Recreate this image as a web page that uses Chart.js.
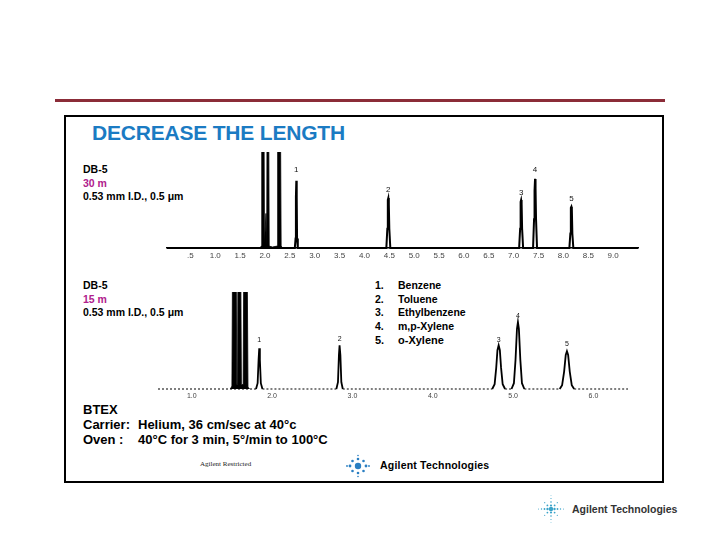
<!DOCTYPE html>
<html>
<head>
<meta charset="utf-8">
<script src="https://cdn.jsdelivr.net/npm/chart.js@4"></script>
<style>
  html, body { margin: 0; padding: 0; background: #fff; }
  #slide { position: relative; width: 720px; height: 540px; overflow: hidden; font-family: "Liberation Sans", Arial, sans-serif; }
  .abs { position: absolute; white-space: nowrap; }
  #redline { left: 55px; top: 99px; width: 610px; height: 3px; background: #8b2c38; }
  #box { left: 64px; top: 115px; width: 596px; height: 364px; border: 2px solid #000; }
  #title { left: 92px; top: 121px; font-size: 21px; font-weight: bold; color: #1b7bc3; letter-spacing: -0.2px; }
  .col { font-size: 10.5px; font-weight: bold; line-height: 13.5px; color: #000; }
  .col .len { color: #b0208c; }
  .legend { left: 375px; font-size: 10.5px; font-weight: bold; line-height: 13.5px; }
  .legend span { display: inline-block; width: 23px; }
  .cond { font-size: 13px; font-weight: bold; line-height: 15px; }
  .cond span { display: inline-block; width: 55px; }
  #restricted { left: 200px; top: 460px; font-family: "Liberation Serif", serif; font-size: 7px; color: #222; }
  #logo1 { left: 380px; top: 459px; font-size: 10.5px; font-weight: bold; color: #000; letter-spacing: 0.2px; }
  #logo2 { left: 572px; top: 503px; font-size: 10.5px; font-weight: bold; color: #333; }
  canvas { position: absolute; }
</style>
</head>
<body>
<div id="slide">
  <div class="abs" id="redline"></div>
  <div class="abs" id="box"></div>
  <div class="abs" id="title">DECREASE THE LENGTH</div>

  <div class="abs col" style="left:83px; top:163px;">DB-5<br><span class="len">30 m</span><br>0.53 mm I.D., 0.5 μm</div>
  <div class="abs col" style="left:83px; top:279px;">DB-5<br><span class="len">15 m</span><br>0.53 mm I.D., 0.5 μm</div>

  <div class="abs legend" style="top:279px;"><span>1.</span>Benzene<br><span>2.</span>Toluene<br><span>3.</span>Ethylbenzene<br><span>4.</span>m,p-Xylene</div>
  <div class="abs legend" style="top:334px; font-size:11px;"><span>5.</span>o-Xylene</div>

  <div class="abs cond" style="left:83px; top:402px;">BTEX<br><span>Carrier:</span>Helium, 36 cm/sec at 40°c<br><span>Oven :</span>40°C for 3 min, 5°/min to 100°C</div>

  <div class="abs" id="restricted">Agilent Restricted</div>

  <svg class="abs" style="left:346px; top:454px;" width="24" height="24" viewBox="-12 -12 24 24">
    <g fill="#2a7fc2">
      <circle r="3.2"/>
      <circle cx="0" cy="-7" r="1.3"/><circle cx="0" cy="7" r="1.3"/>
      <circle cx="-8" cy="0" r="1.4"/><circle cx="8" cy="0" r="1.4"/>
      <circle cx="-5.5" cy="-5" r="1.3"/><circle cx="5.5" cy="-5" r="1.3"/>
      <circle cx="-5.5" cy="5" r="1.3"/><circle cx="5.5" cy="5" r="1.3"/>
      <circle cx="-11" cy="0" r="0.9"/><circle cx="11" cy="0" r="0.9"/>
      <circle cx="0" cy="-10.5" r="0.8"/><circle cx="0" cy="10.5" r="0.8"/>
    </g>
  </svg>
  <div class="abs" id="logo1">Agilent Technologies</div>

  <svg class="abs" style="left:536px; top:494px;" width="30" height="30" viewBox="-15 -15 30 30">
    <g fill="#3aa3c9">
      <circle r="2.2"/>
      <circle cx="-3.5" cy="0" r="1.2"/><circle cx="3.5" cy="0" r="1.2"/>
      <circle cx="0" cy="-3.5" r="1.1"/><circle cx="0" cy="3.5" r="1.1"/>
      <circle cx="-6.5" cy="0" r="0.9"/><circle cx="6.5" cy="0" r="0.9"/>
      <circle cx="-9.5" cy="0" r="0.7"/><circle cx="9.5" cy="0" r="0.7"/>
      <circle cx="-12.5" cy="0" r="0.5"/><circle cx="12.5" cy="0" r="0.5"/>
      <circle cx="0" cy="-7" r="0.8"/><circle cx="0" cy="7" r="0.8"/>
      <circle cx="0" cy="-10.5" r="0.6"/><circle cx="0" cy="10.5" r="0.6"/>
      <circle cx="0" cy="-13.5" r="0.4"/><circle cx="0" cy="13.5" r="0.4"/>
      <circle cx="-3.6" cy="-3.6" r="0.9"/><circle cx="3.6" cy="-3.6" r="0.9"/>
      <circle cx="-3.6" cy="3.6" r="0.9"/><circle cx="3.6" cy="3.6" r="0.9"/>
      <circle cx="-6.3" cy="-6.3" r="0.6"/><circle cx="6.3" cy="-6.3" r="0.6"/>
      <circle cx="-6.3" cy="6.3" r="0.6"/><circle cx="6.3" cy="6.3" r="0.6"/>
    </g>
  </svg>
  <div class="abs" id="logo2">Agilent Technologies</div>

  <canvas id="chart30" width="490" height="130" style="left:160px; top:140px;"></canvas>
  <canvas id="chart15" width="490" height="130" style="left:150px; top:280px;"></canvas>
</div>

<script>
// 30 m column: retention time (min) vs detector signal (1 = top of plot, solvent runs off scale)
const solvent30 = [
  [1.90, 0], [1.925, 0.02],
  [1.935, 2], [1.975, 2], [1.99, 0.05], [2.02, 0.36], [2.035, 0.03],
  [2.045, 2], [2.07, 2], [2.085, 0.02], [2.15, 0.01], [2.245, 0.02],
  [2.255, 2], [2.305, 2], [2.325, 0.02], [2.36, 0]
];
const trace30 = [
  [0.03, 0], [1.90, 0], [2.36, 0],
  [2.60, 0], [2.615, 0.1], [2.622, 0.53], [2.63, 0.70], [2.638, 0.53], [2.645, 0.1], [2.66, 0],
  [4.44, 0], [4.46, 0.2], [4.47, 0.5], [4.48, 0.52], [4.49, 0.45], [4.50, 0.2], [4.52, 0],
  [7.11, 0], [7.13, 0.2], [7.14, 0.48], [7.15, 0.50], [7.16, 0.46], [7.17, 0.2], [7.19, 0],
  [7.39, 0], [7.41, 0.3], [7.42, 0.6], [7.43, 0.72], [7.44, 0.62], [7.45, 0.3], [7.47, 0],
  [8.12, 0], [8.14, 0.15], [8.15, 0.42], [8.16, 0.43], [8.17, 0.40], [8.18, 0.15], [8.20, 0],
  [9.50, 0]
];
const ticks30 = [0.5, 1.0, 1.5, 2.0, 2.5, 3.0, 3.5, 4.0, 4.5, 5.0, 5.5, 6.0, 6.5, 7.0, 7.5, 8.0, 8.5, 9.0];
const tickLabels30 = ['.5', '1.0', '1.5', '2.0', '2.5', '3.0', '3.5', '4.0', '4.5', '5.0', '5.5', '6.0', '6.5', '7.0', '7.5', '8.0', '8.5', '9.0'];
const peakTime30 = [2.63, 4.48, 7.15, 7.43, 8.16];
const peakLabelLevel30 = [0.81, 0.61, 0.58, 0.81, 0.51];

// 15 m column
const solvent15 = [
  [1.48, 0], [1.50, 0.03],
  [1.512, 2], [1.55, 2], [1.56, 0.05], [1.57, 0.05], [1.578, 2], [1.605, 2], [1.618, 0.04], [1.64, 0.05],
  [1.652, 2], [1.685, 2], [1.70, 0.02], [1.72, 0]
];
const trace15 = [
  [0.58, 0], [1.48, 0], [1.72, 0],
  [1.80, 0], [1.82, 0.06], [1.832, 0.3], [1.84, 0.42], [1.848, 0.3], [1.86, 0.06], [1.88, 0],
  [2.80, 0], [2.82, 0.07], [2.832, 0.35], [2.84, 0.45], [2.85, 0.35], [2.862, 0.07], [2.88, 0],
  [4.74, 0], [4.77, 0.05], [4.79, 0.22], [4.805, 0.40], [4.82, 0.45], [4.835, 0.40], [4.85, 0.22], [4.87, 0.05], [4.90, 0],
  [4.98, 0], [5.01, 0.06], [5.03, 0.30], [5.048, 0.62], [5.06, 0.69], [5.072, 0.62], [5.09, 0.30], [5.11, 0.06], [5.14, 0],
  [5.58, 0], [5.61, 0.04], [5.635, 0.18], [5.655, 0.35], [5.67, 0.39], [5.685, 0.35], [5.705, 0.18], [5.73, 0.04], [5.76, 0],
  [6.43, 0]
];
const ticks15 = [1.0, 2.0, 3.0, 4.0, 5.0, 6.0];
const tickLabels15 = ['1.0', '2.0', '3.0', '4.0', '5.0', '6.0'];
const peakTime15 = [1.84, 2.84, 4.82, 5.06, 5.67];
const peakLabelLevel15 = [0.50, 0.515, 0.505, 0.755, 0.465];

const peakNames = ['1', '2', '3', '4', '5'];

// small numbers over the peaks
const peakLabels = {
  id: 'peakLabels',
  afterDatasetsDraw(chart, args, opts) {
    const { ctx, scales } = chart;
    ctx.save();
    ctx.fillStyle = '#111';
    ctx.font = `${opts.size}px "Liberation Sans", Arial, sans-serif`;
    ctx.textAlign = 'center';
    ctx.textBaseline = 'middle';
    opts.time.forEach((t, i) => {
      ctx.fillText(peakNames[i], scales.x.getPixelForValue(t), scales.y.getPixelForValue(opts.level[i]));
    });
    ctx.restore();
  }
};

function makeChromatogram(id, trace, solvent, cfg) {
  const flat = c => cfg.dotted && c.p0.parsed.y === 0 && c.p1.parsed.y === 0;
  return new Chart(document.getElementById(id), {
    type: 'line',
    data: {
      datasets: [{
        // off-scale solvent front, drawn solid
        data: solvent.map(p => ({ x: p[0], y: p[1] })),
        borderColor: '#000',
        backgroundColor: '#000',
        borderWidth: 0.8,
        pointRadius: 0,
        tension: 0,
        fill: 'origin',
        clip: { left: 0, right: 0, top: 0, bottom: 0 }
      }, {
        data: trace.map(p => ({ x: p[0], y: p[1] })),
        borderColor: '#000',
        borderWidth: cfg.lineWidth,
        pointRadius: 0,
        tension: 0,
        fill: false,
        clip: { left: 0, right: 0, top: 0, bottom: 4 },
        segment: {
          borderDash: c => flat(c) ? [2, 2] : undefined,
          borderWidth: c => flat(c) ? 1.2 : cfg.lineWidth
        }
      }]
    },
    options: {
      responsive: false,
      animation: false,
      events: [],
      layout: { padding: cfg.padding },
      plugins: {
        legend: { display: false },
        tooltip: { enabled: false },
        peakLabels: { time: cfg.peakTime, level: cfg.peakLevel, size: cfg.labelSize }
      },
      scales: {
        x: {
          type: 'linear',
          min: cfg.min,
          max: cfg.max,
          afterBuildTicks: scale => { scale.ticks = cfg.ticks.map(v => ({ value: v })); },
          afterFit: scale => { scale.height = cfg.axisHeight; },
          ticks: {
            autoSkip: false,
            maxRotation: 0,
            padding: 3,
            color: '#444',
            font: { size: cfg.tickSize, family: '"Liberation Sans", Arial, sans-serif' },
            callback: v => cfg.tickLabels[cfg.ticks.indexOf(v)]
          },
          grid: { display: false, drawTicks: false },
          border: { display: cfg.solidAxis, color: '#000', width: 1.5 }
        },
        y: { display: false, min: 0, max: 1 }
      }
    },
    plugins: [peakLabels]
  });
}

makeChromatogram('chart30', trace30, solvent30, {
  min: 0.03, max: 9.5,
  ticks: ticks30, tickLabels: tickLabels30,
  peakTime: peakTime30, peakLevel: peakLabelLevel30,
  padding: { left: 7, right: 12, top: 12, bottom: 7 },
  axisHeight: 15, tickSize: 8, labelSize: 8,
  lineWidth: 2, solidAxis: true, dotted: false
});

makeChromatogram('chart15', trace15, solvent15, {
  min: 0.58, max: 6.43,
  ticks: ticks15, tickLabels: tickLabels15,
  peakTime: peakTime15, peakLevel: peakLabelLevel15,
  padding: { left: 8, right: 12, top: 12, bottom: 8 },
  axisHeight: 13, tickSize: 7, labelSize: 7,
  lineWidth: 1.8, solidAxis: false, dotted: true
});
</script>
</body>
</html>
